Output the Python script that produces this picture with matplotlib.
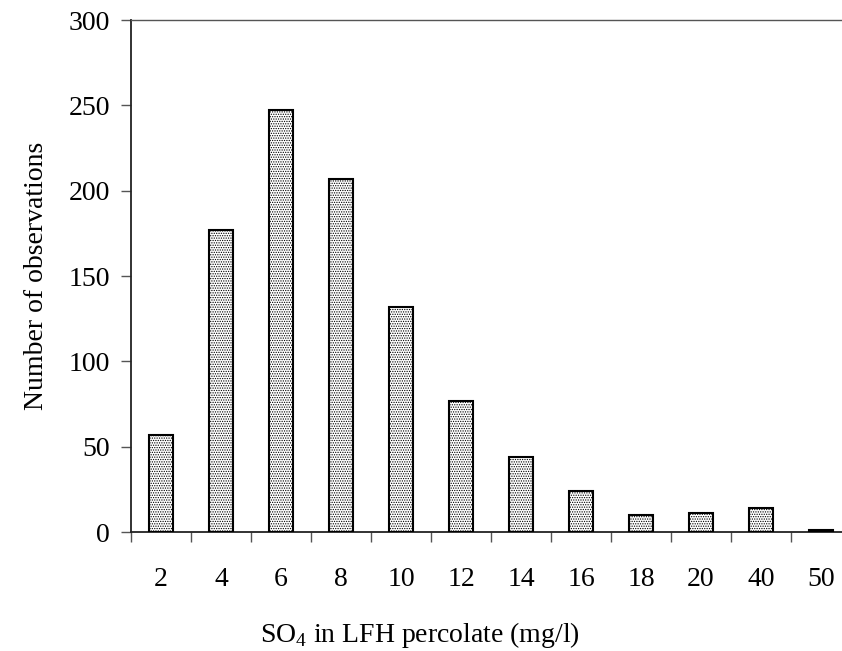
import numpy as np
import matplotlib
matplotlib.use('Agg')
import matplotlib.pyplot as plt

# Data
categories = ['2', '4', '6', '8', '10', '12', '14', '16', '18', '20', '40', '50']
counts = [57, 177, 247, 207, 132, 77, 44, 24, 10, 11, 14, 1]

plt.rcParams['font.family'] = ['Liberation Serif', 'DejaVu Serif']
plt.rcParams['mathtext.fontset'] = 'custom'
plt.rcParams['mathtext.rm'] = 'Liberation Serif'
plt.rcParams['hatch.color'] = '#9a9a9a'
plt.rcParams['hatch.linewidth'] = 0.6

W, H = 842, 651
fig = plt.figure(figsize=(W / 100, H / 100), dpi=100)
# axes spans past the right edge of the figure, as in the original
ax = fig.add_axes([131 / W, 1 - 532 / H, 720 / W, 512 / H])

x = np.arange(len(categories))
ax.bar(x, counts, width=0.4, color='white', edgecolor='black',
       linewidth=1.5, hatch='.......', zorder=3)

ax.set_xlim(-0.5, len(categories) - 0.5)
ax.set_ylim(0, 300)
ax.set_yticks(np.arange(0, 301, 50))
ax.set_xticks(x)
ax.set_xticklabels(categories)
ax.set_xticks(np.arange(-0.5, len(categories), 1.0), minor=True)

ax.tick_params(axis='y', direction='out', length=7.2, width=1.0,
               color='#555555', labelsize=20, pad=8)
ax.tick_params(axis='x', which='major', length=0, labelsize=20, pad=25)
ax.tick_params(axis='x', which='minor', direction='out', length=7.2,
               width=1.0, color='#555555')

for side in ['left', 'bottom']:
    ax.spines[side].set_color('#222222')
    ax.spines[side].set_linewidth(1.3)
ax.spines['top'].set_color('#555555')
ax.spines['top'].set_linewidth(1.0)
ax.spines['right'].set_visible(False)

ax.set_ylabel('Number of observations', fontsize=20, labelpad=14)
fig.text(420 / W, 1 - 635 / H, r'SO$_\mathrm{4}$ in LFH percolate (mg/l)',
         fontsize=20, ha='center', va='center')

fig.savefig('out.png', dpi=100)
